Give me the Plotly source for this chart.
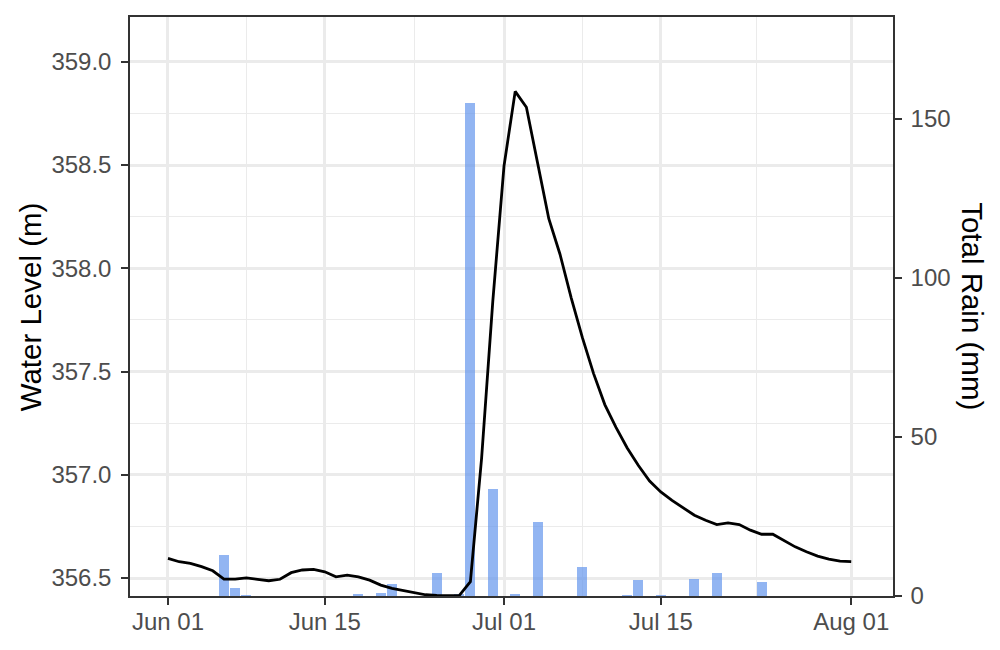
import pandas as pd
import plotly.graph_objects as go

# daily water level, Jun 01 .. Aug 01
dates = pd.date_range('2021-06-01', '2021-08-01', freq='D')
water_level = [
    356.595, 356.579, 356.571, 356.555, 356.535, 356.495, 356.495, 356.501, 356.494, 356.487,
    356.494, 356.526, 356.539, 356.542, 356.530, 356.506, 356.514, 356.506, 356.490, 356.466,
    356.450, 356.439, 356.428, 356.419, 356.416, 356.415, 356.415, 356.482, 357.080, 357.840,
    358.495, 358.857, 358.780, 358.510, 358.240, 358.068, 357.857, 357.664, 357.490, 357.340,
    357.230, 357.130, 357.045, 356.970, 356.917, 356.876, 356.840, 356.804, 356.780, 356.759,
    356.767, 356.759, 356.732, 356.712, 356.712, 356.683, 356.651, 356.627, 356.606, 356.592,
    356.582, 356.579,
]

# days with rain
rain_dates = ['2021-06-06', '2021-06-07', '2021-06-08', '2021-06-18', '2021-06-20', '2021-06-21',
              '2021-06-25', '2021-06-27', '2021-06-28', '2021-06-30', '2021-07-02', '2021-07-04',
              '2021-07-08', '2021-07-12', '2021-07-13', '2021-07-15', '2021-07-18', '2021-07-20',
              '2021-07-24']
rain_mm = [12.8, 2.5, 0.3, 0.6, 0.9, 3.8,
           7.3, 0.5, 155.0, 33.5, 0.6, 23.2,
           9.1, 0.3, 5.0, 0.3, 5.3, 7.3,
           4.5]

x_ticks = ['2021-06-01', '2021-06-15', '2021-07-01', '2021-07-15', '2021-08-01']
x_minor = ['2021-06-08', '2021-06-23', '2021-07-08', '2021-07-23 12:00']
level_ticks = [356.5, 357.0, 357.5, 358.0, 358.5, 359.0]
level_minor = [356.75, 357.25, 357.75, 358.25, 358.75]
rain_ticks = [0, 50, 100, 150]

day_ms = 86400000
x_start = pd.Timestamp('2021-06-01') - pd.Timedelta(days=3.39)
x_end = pd.Timestamp('2021-06-01') + pd.Timedelta(days=64.73)

GRID = '#EBEBEB'
INK = '#333333'
TICKFONT = dict(family='Liberation Sans, Arial', size=24, color='#4D4D4D')
TITLEFONT = dict(family='Liberation Sans, Arial', size=29.5, color='black')

fig = go.Figure()
fig.add_trace(go.Bar(x=rain_dates, y=rain_mm, width=0.9 * day_ms,
                     marker=dict(color='rgba(100,149,237,0.7)', line=dict(width=0)),
                     yaxis='y', showlegend=False))
fig.add_trace(go.Scatter(x=dates, y=water_level, mode='lines',
                         line=dict(color='black', width=2.8),
                         yaxis='y2', showlegend=False))

# page is drawn with an 8px body offset, so margins are shifted to compensate
fig.update_layout(
    width=1000, height=650,
    margin=dict(l=122, r=115, t=7, b=62),
    plot_bgcolor='white', paper_bgcolor='white',
    bargap=0,
    xaxis=dict(
        type='date', range=[x_start, x_end],
        tickvals=x_ticks, tickformat='%b %d',
        showgrid=True, gridcolor=GRID, gridwidth=2.7,
        minor=dict(tickvals=x_minor, showgrid=True, gridcolor=GRID,
                   gridwidth=1.35, ticks=''),
        showline=True, mirror=True, linecolor=INK, linewidth=1.5,
        ticks='outside', ticklen=7, tickwidth=2, tickcolor=INK,
        tickfont=TICKFONT, zeroline=False, ticklabelstandoff=-4,
    ),
    yaxis=dict(
        side='right', range=[0, 182], tickvals=rain_ticks,
        showgrid=False, zeroline=False,
        showline=True, linecolor=INK, linewidth=1.5,
        ticks='outside', ticklen=7, tickwidth=2, tickcolor=INK,
        tickfont=TICKFONT, ticklabelstandoff=4,
    ),
    yaxis2=dict(
        side='left', overlaying='y', range=[356.413, 359.217],
        tickvals=level_ticks, tickformat='.1f',
        showgrid=True, gridcolor=GRID, gridwidth=2.7,
        minor=dict(tickvals=level_minor, showgrid=True, gridcolor=GRID,
                   gridwidth=1.35, ticks=''),
        zeroline=False,
        showline=True, linecolor=INK, linewidth=1.5,
        ticks='outside', ticklen=7, tickwidth=2, tickcolor=INK,
        tickfont=TICKFONT, ticklabelstandoff=5,
    ),
    annotations=[
        dict(text='Water Level (m)', xref='paper', yref='paper', x=-0.13, y=0.5,
             xanchor='center', yanchor='middle', textangle=-90, showarrow=False,
             font=TITLEFONT),
        dict(text='Total Rain (mm)', xref='paper', yref='paper', x=1.104, y=0.5,
             xanchor='center', yanchor='middle', textangle=90, showarrow=False,
             font=TITLEFONT),
    ],
)

fig.write_html('out.html')
